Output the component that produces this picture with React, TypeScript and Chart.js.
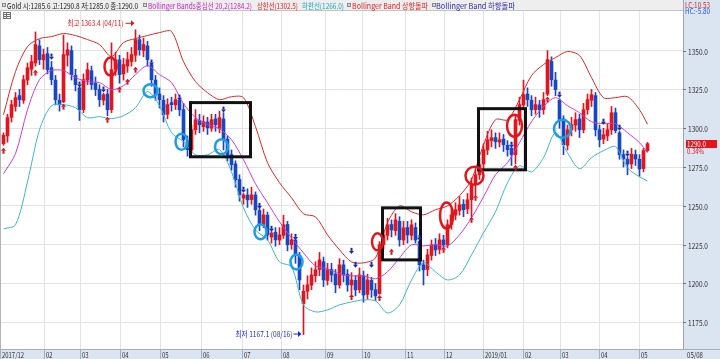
import React, { useEffect, useRef } from "react";
import { Chart, registerables } from "chart.js";

Chart.register(...registerables);

// ---------------- data ----------------
// candles: [open, high, low, close] (one bar per ~2 trading days, 2017/12 .. 2019/05/08)
const candles: number[][] = [
  [1290, 1297, 1289, 1295.5], [1295, 1309, 1291, 1306.8], [1307, 1318, 1304, 1315.2], [1314, 1323, 1311, 1319.7],
  [1321, 1325, 1314, 1318.4], [1318, 1334, 1316, 1331.3], [1331, 1342, 1328, 1339.0], [1338, 1347, 1334, 1342.9],
  [1342, 1362, 1340, 1353.9], [1353, 1357, 1341, 1344.2], [1344, 1351, 1338, 1347.4], [1348, 1352, 1335, 1337.7],
  [1339, 1343, 1328, 1331.3], [1331, 1334, 1315, 1318.4], [1318, 1322, 1311, 1315.2], [1317, 1360, 1316.5, 1347.4],
  [1347, 1355, 1340, 1350.6], [1350, 1353, 1331, 1334.5], [1334, 1338, 1324, 1328.1], [1326, 1326.5, 1305, 1311.9],
  [1312, 1335, 1310, 1331.3], [1331, 1342, 1328, 1337.7], [1337, 1340, 1325, 1328.1], [1329, 1333, 1321, 1324.9],
  [1325, 1328, 1314, 1318.4], [1318, 1322.5, 1315, 1321.6], [1322, 1325, 1308, 1311.9], [1312, 1355, 1310, 1337.7],
  [1338, 1349, 1334, 1344.2], [1344, 1347, 1329, 1334.5], [1335, 1345, 1331, 1341.0], [1340, 1349, 1336, 1344.2],
  [1343, 1352, 1340, 1347.4], [1347, 1363.4, 1343, 1357.1], [1357, 1360, 1347, 1350.6], [1350, 1358, 1346, 1353.9],
  [1353, 1356, 1340, 1344.2], [1341, 1341, 1327, 1331.3], [1331, 1334, 1318, 1321.6], [1322, 1326, 1313, 1318.4],
  [1318, 1321, 1304, 1308.7], [1309, 1319, 1306, 1315.2], [1316.5, 1320, 1311, 1315.2], [1315, 1322, 1312, 1318.4],
  [1318, 1318.5, 1308, 1311.9], [1312, 1316, 1288, 1292.6], [1292, 1295, 1282, 1286.2], [1286, 1302, 1284, 1299.0],
  [1299, 1312, 1296, 1305.5], [1305, 1309, 1297, 1302.3], [1301, 1308, 1298, 1304.2], [1304, 1307, 1296, 1300.3],
  [1300, 1309, 1298, 1305.5], [1306, 1309, 1298, 1302.3], [1300, 1311, 1297, 1306.8], [1306, 1310, 1286, 1292.6],
  [1293, 1295, 1279, 1282.9], [1283, 1286, 1273, 1276.5], [1277, 1279, 1262, 1266.8], [1267, 1270, 1253, 1257.1],
  [1255, 1258, 1251, 1257.0], [1257, 1261, 1249, 1253.9], [1254, 1262, 1251, 1257.1], [1257, 1259, 1244, 1247.5],
  [1247, 1249, 1234, 1237.8], [1238, 1248, 1236, 1244.2], [1244, 1246, 1228, 1231.3], [1230, 1233.5, 1226, 1232.5],
  [1233, 1236, 1224, 1228.1], [1228, 1236, 1225, 1231.3], [1231, 1244, 1229, 1237.8], [1238, 1240, 1221, 1224.9],
  [1225, 1232, 1222, 1228.1], [1228, 1229, 1213, 1218.4], [1218, 1220, 1196, 1202.3], [1187, 1199, 1167.1, 1195.0],
  [1195, 1205, 1190, 1199.1], [1199, 1210, 1196, 1205.5], [1205, 1214, 1201, 1208.8], [1209, 1220, 1205, 1215.2],
  [1214, 1217, 1198, 1202.3], [1202, 1213, 1199, 1208.8], [1209, 1213, 1201, 1205.5], [1206, 1209, 1194, 1199.1],
  [1199, 1216, 1197, 1212.0], [1212, 1215, 1201, 1205.5], [1206, 1209, 1195, 1199.1], [1199, 1207, 1193, 1202.3],
  [1202, 1205, 1192, 1195.9], [1196, 1210, 1194, 1205.5], [1205, 1208, 1188, 1192.6], [1193, 1206, 1190, 1202.3],
  [1202, 1204, 1191, 1195.9], [1196, 1200, 1189, 1192.0], [1193.5, 1227, 1193, 1224.9], [1225, 1235, 1222, 1231.3],
  [1231, 1242, 1228, 1237.8], [1238, 1241, 1230, 1234.5], [1234, 1245, 1231, 1241.0], [1240, 1243, 1224, 1228.1],
  [1228, 1240, 1225, 1235.8], [1236, 1240, 1226, 1231.3], [1231, 1241, 1228, 1237.8], [1236, 1239, 1226, 1228.0],
  [1227, 1227.5, 1208, 1212.0], [1212, 1215, 1199, 1208.8], [1209, 1222, 1205, 1218.4], [1218, 1228, 1215, 1224.9],
  [1225, 1229, 1218, 1221.6], [1222, 1232, 1219, 1228.1], [1228, 1231, 1223, 1224.9], [1225, 1241, 1223, 1237.8],
  [1238, 1248, 1235, 1244.2], [1244, 1252, 1241, 1247.5], [1247, 1256, 1244, 1250.7], [1251, 1254, 1243, 1247.5],
  [1248, 1258, 1245, 1253.9], [1254, 1268, 1243, 1263.6], [1264, 1274, 1257, 1270.0], [1270, 1281, 1267, 1276.5],
  [1277, 1290, 1274, 1286.2], [1286, 1298, 1283, 1292.6], [1292, 1299, 1288, 1293.9], [1294, 1297, 1287, 1291.3],
  [1291, 1297, 1288, 1292.6], [1293, 1296, 1285, 1289.4], [1289, 1292, 1282, 1286.2], [1287, 1288, 1276, 1282.9],
  [1283, 1308, 1277, 1305.5], [1305, 1320, 1302, 1315.2], [1315, 1331, 1312, 1321.6], [1322, 1326, 1314, 1318.4],
  [1318, 1321, 1308, 1311.9], [1312, 1320, 1309, 1315.2], [1315, 1318, 1307, 1311.9], [1312, 1323, 1309, 1318.4],
  [1322, 1350, 1321, 1344.2], [1343, 1346, 1327, 1331.3], [1331, 1336, 1321, 1324.9], [1318, 1319, 1300, 1305.5],
  [1306, 1308, 1283, 1289.4], [1289, 1302, 1286, 1299.0], [1299, 1307, 1295, 1302.3], [1302, 1310, 1298, 1305.5],
  [1306, 1309, 1294, 1299.0], [1299, 1316, 1297, 1311.9], [1312, 1322, 1309, 1318.4], [1318, 1325, 1314, 1321.6],
  [1321, 1323, 1295, 1299.0], [1299, 1302, 1288, 1292.6], [1293, 1300, 1290, 1295.8], [1295, 1303, 1292, 1299.0],
  [1299, 1314, 1296, 1310.0], [1310, 1313, 1297, 1298.5], [1297, 1298, 1280, 1283.0], [1283, 1286, 1275, 1280.2],
  [1280, 1281.5, 1270, 1276.9], [1277, 1287, 1274, 1283.3], [1283, 1286, 1276, 1280.2], [1280, 1283, 1269, 1273.7],
  [1274, 1287, 1272, 1285.6], [1285.6, 1290.8, 1285.0, 1290.0],
];

// Bollinger band samples (candle index -> value)
const bandIndex = [0, 3, 6, 9, 12, 15, 18, 21, 24, 27, 30, 33, 36, 39, 42, 45, 48, 51, 54, 57, 60, 63, 66, 69, 72, 75, 78, 81,
  84, 87, 90, 93, 96, 99, 102, 105, 108, 111, 114, 117, 120, 123, 126, 129, 132, 135, 138, 141, 144, 147, 150, 153, 156, 159, 161];
const upperBand = [1308.7, 1336.5, 1352.6, 1357.7, 1359.0, 1361.0, 1359.7, 1357.1, 1353.9, 1346.1, 1355.2, 1357.7, 1359.7, 1361.6,
  1362.3, 1342.9, 1330.0, 1322.9, 1318.4, 1320.3, 1319.7, 1301.0, 1277.8, 1264.9, 1255.2, 1244.9, 1242.9, 1231.3, 1221.7, 1213.9,
  1213.3, 1216.5, 1239.1, 1250.0, 1246.2, 1244.2, 1247.5, 1250.0, 1256.5, 1266.8, 1289.4, 1305.5, 1305.5, 1318.4, 1333.9, 1341.0,
  1345.5, 1349.4, 1346.8, 1332.6, 1319.7, 1319.7, 1320.3, 1311.9, 1302.5];
const middleBand = [1270.7, 1283.6, 1311.9, 1331.3, 1337.1, 1337.1, 1332.6, 1330.0, 1329.4, 1324.9, 1327.4, 1334.5, 1340.3, 1334.5,
  1329.4, 1315.8, 1306.8, 1302.3, 1299.7, 1292.6, 1279.7, 1264.2, 1252.0, 1239.7, 1229.4, 1219.7, 1211.3, 1209.4, 1206.2, 1204.9,
  1204.9, 1203.0, 1207.5, 1216.5, 1224.9, 1224.2, 1224.9, 1224.2, 1231.3, 1242.3, 1255.8, 1270.0, 1277.8, 1290.7, 1304.2, 1313.9,
  1319.7, 1314.5, 1310.0, 1304.2, 1302.9, 1302.9, 1297.1, 1290.7, 1284.2];
const lowerBand = [1235.2, 1237.8, 1265.5, 1299.0, 1314.5, 1315.2, 1313.2, 1306.8, 1307.4, 1306.2, 1308.1, 1313.2, 1323.6, 1314.5,
  1297.1, 1291.3, 1282.9, 1282.9, 1286.2, 1271.9, 1248.7, 1234.5, 1228.1, 1213.9, 1210.7, 1186.2, 1181.7, 1183.0, 1186.2, 1188.1,
  1189.4, 1188.8, 1181.0, 1186.2, 1202.3, 1213.3, 1207.5, 1202.3, 1205.5, 1218.4, 1232.6, 1246.2, 1264.9, 1275.8, 1271.9, 1281.0,
  1297.1, 1284.2, 1273.9, 1281.0, 1285.5, 1288.1, 1274.5, 1268.7, 1266.0];

// month boundaries on the candle-index axis and their labels
const monthStarts = [-0.875, 10.125, 19.125, 29.125, 39.125, 49.375, 59.625, 69.375, 80.375, 89.625, 100.375, 110.125,
  119.875, 129.875, 139.125, 148.875, 158.875];
const monthLabels = ["2017/12", "02", "03", "04", "05", "06", "07", "08", "09", "10", "11", "12", "2019/01", "02", "03", "04", "05"];
const lastDateLabel = "05/08";
const yTicks = [1175, 1200, 1225, 1250, 1275, 1300, 1325, 1350];

// signals [candle index, price]
const upSignals = [[0, 1285.5], [8, 1335.8], [15, 1313.9], [26, 1305.5], [29, 1324.9], [31, 1330.0], [33, 1337.7], [87, 1191.3],
  [94, 1190.7], [97, 1220.4], [110, 1221.7], [117, 1241.0], [118, 1255.2], [128, 1274.5], [136, 1318.5]];
const downSignals = [[12, 1346.1], [19, 1328.1], [25, 1324.9], [37, 1342.3], [44, 1319.7], [55, 1312.0], [60, 1260.4], [64, 1250.0],
  [67, 1235.2], [73, 1230.0], [87, 1221.0], [88, 1212.0], [92, 1212.0], [104, 1229.4], [127, 1289.4], [139, 1321.6], [150, 1304.2],
  [154, 1300.3], [156, 1283.6]];
// highlighted spots [candle index, price]
const redCircles = [[26.75, 1339.7], [93.5, 1226.8], [110.75, 1243.8], [117.75, 1269.4], [127.75, 1301.6]];
const blueCircles = [[36.75, 1324.2], [44.5, 1291.3], [54.5, 1288.1], [64.25, 1233.3], [73.25, 1213.9], [139.75, 1299.7]];
// boxes [from index, to index, top price, bottom price]
const boxes = [[46.75, 61.75, 1316.5, 1281.6], [94.75, 104.25, 1248.7, 1215.2], [118.75, 130.5, 1312.6, 1273.2]];
const highMark = { index: 33, value: 1363.4, date: "04/11" };
const lowMark = { index: 75, value: 1167.1, date: "08/16" };
const lcText = "LC:10.53";
const hcText = "HC:-5.80";

// ---------------- styles ----------------
const RED = "#e3141c";
const BLUE = "#1647c4";
const GRID = "#e3e3e3";
const PANEL = "#dbe5f1";
const FONT = '8px "Noto Sans CJK KR", "Noto Sans", sans-serif';
const RED_RADII = [[6, 9], [5.5, 8.5], [6.5, 13], [9, 9], [7.5, 11]];
const BLUE_RADII = [[7, 6.5], [6, 8], [6.5, 7.5], [6, 7.5], [6, 7.5], [8.5, 9]];

function fitText(ctx: any, s: string, x: number, y: number, w: number, color: string) {
  ctx.save();
  ctx.font = FONT;
  ctx.fillStyle = color;
  ctx.textBaseline = "middle";
  ctx.textAlign = "left";
  const m = ctx.measureText(s).width || 1;
  ctx.translate(x, y);
  ctx.scale(w / m, 1);
  ctx.fillText(s, 0, 0);
  ctx.restore();
}
function scaledText(ctx: any, s: string, x: number, y: number, color: string, sx: number) {
  ctx.save();
  ctx.font = FONT;
  ctx.fillStyle = color;
  ctx.textBaseline = "middle";
  ctx.textAlign = "left";
  ctx.translate(x, y);
  ctx.scale(sx, 1);
  ctx.fillText(s, 0, 0);
  ctx.restore();
}
function arrowGlyph(ctx: any, cx: number, cy: number, dir: number, color: string) {
  ctx.fillStyle = color;
  ctx.beginPath();
  ctx.moveTo(cx - 2.5, cy);
  ctx.lineTo(cx + 2.5, cy);
  ctx.lineTo(cx, cy - 3 * dir);
  ctx.closePath();
  ctx.fill();
  ctx.fillRect(cx - 1, dir > 0 ? cy : cy - 3, 2, 3);
}
function pointerArrow(ctx: any, x1: number, x2: number, y: number, color: string) {
  ctx.strokeStyle = color;
  ctx.fillStyle = color;
  ctx.lineWidth = 1;
  ctx.beginPath();
  ctx.moveTo(x1, y + 0.5);
  ctx.lineTo(x2 - 2, y + 0.5);
  ctx.stroke();
  ctx.beginPath();
  ctx.moveTo(x2, y + 0.5);
  ctx.lineTo(x2 - 3.5, y - 2.5);
  ctx.lineTo(x2 - 3.5, y + 3.5);
  ctx.closePath();
  ctx.fill();
}

const fmt = (v: number) => v.toFixed(1);

const overlayPlugin = {
  id: "overlay",
  afterDatasetsDraw(chart: any) {
    const { ctx, chartArea: a } = chart;
    const xs = chart.scales.x;
    const ys = chart.scales.y;
    const px = (i: number) => xs.getPixelForValue(i);
    const py = (v: number) => ys.getPixelForValue(v);
    ctx.save();
    ctx.beginPath();
    ctx.rect(a.left, a.top, a.right - a.left, a.bottom - a.top);
    ctx.clip();
    // boxes
    ctx.strokeStyle = "#111111";
    ctx.lineWidth = 3;
    boxes.forEach((b) => {
      ctx.strokeRect(px(b[0]), py(b[2]), px(b[1]) - px(b[0]), py(b[3]) - py(b[2]));
    });
    // circles
    ctx.lineWidth = 2.5;
    redCircles.forEach((c, k) => {
      ctx.strokeStyle = "#e0161a";
      ctx.beginPath();
      ctx.ellipse(px(c[0]), py(c[1]), RED_RADII[k][0], RED_RADII[k][1], 0, 0, Math.PI * 2);
      ctx.stroke();
    });
    blueCircles.forEach((c, k) => {
      ctx.strokeStyle = "#1b9ee2";
      ctx.beginPath();
      ctx.ellipse(px(c[0]), py(c[1]), BLUE_RADII[k][0], BLUE_RADII[k][1], 0, 0, Math.PI * 2);
      ctx.stroke();
    });
    // signals
    upSignals.forEach((s) => arrowGlyph(ctx, px(s[0]), py(s[1]), 1, "#d81018"));
    downSignals.forEach((s) => arrowGlyph(ctx, px(s[0]), py(s[1]), -1, "#1a2aa8"));
    // high / low labels
    const hx = px(highMark.index);
    const hy = py(highMark.value) - 7;
    fitText(ctx, `최고 ${fmt(highMark.value)} (${highMark.date})`, hx - 68, hy, 56, "#e0161a");
    pointerArrow(ctx, hx - 10, hx - 1, hy, "#e0161a");
    const lx = px(lowMark.index);
    const ly = py(lowMark.value) - 1;
    fitText(ctx, `최저 ${fmt(lowMark.value)} (${lowMark.date})`, lx - 68, ly, 57, "#1a2ad0");
    pointerArrow(ctx, lx - 10, lx - 2, ly, "#1a2ad0");
    ctx.restore();
  },
  afterDraw(chart: any) {
    const { ctx, chartArea: a, width, height } = chart;
    const xs = chart.scales.x;
    const ys = chart.scales.y;
    ctx.save();
    // legend bar
    ctx.fillStyle = "#eeeeee";
    ctx.fillRect(0, 0, a.right, a.top - 1);
    ctx.fillStyle = "#c4c4c4";
    ctx.fillRect(0, a.top - 1, a.right, 1);
    const last = candles[candles.length - 1];
    const n = upperBand.length - 1;
    const items = [
      { sq: 2, x: 7, w: 131, color: "#1a1a1a", text: `Gold 시:${fmt(last[0])} 고:${fmt(last[1])} 저:${fmt(last[2])} 종:${fmt(last[3])}` },
      { sq: 143, x: 148, w: 104, color: "#c81ec8", text: `Bollinger Bands중심선 20,2(${fmt(middleBand[n])})` },
      { sq: -1, x: 257, w: 41, color: "#e01e1e", text: `상한선(${fmt(upperBand[n])})` },
      { sq: -1, x: 302, w: 42, color: "#19a6bf", text: `하한선(${fmt(lowerBand[n])})` },
      { sq: 347, x: 352, w: 76, color: "#e01e1e", text: "Bollinger Band 상향돌파" },
      { sq: 432, x: 436, w: 79, color: "#2a2aa8", text: "Bollinger Band 하향돌파" },
    ];
    items.forEach((it) => {
      if (it.sq >= 0) {
        ctx.fillStyle = "#d6d6d6";
        ctx.fillRect(it.sq, 3, 4, 4);
        ctx.strokeStyle = "#8a8a8a";
        ctx.lineWidth = 1;
        ctx.strokeRect(it.sq + 0.5, 3.5, 3, 3);
      }
      fitText(ctx, it.text, it.x, 5.5, it.w, it.color);
    });
    // small table icon
    ctx.fillStyle = "#f6f6f6";
    ctx.fillRect(3, 12, 8, 7);
    ctx.strokeStyle = "#707070";
    ctx.lineWidth = 1;
    ctx.strokeRect(3.5, 12.5, 7, 6);
    ctx.beginPath();
    ctx.moveTo(3.5, 14.5); ctx.lineTo(10.5, 14.5);
    ctx.moveTo(3.5, 16.5); ctx.lineTo(10.5, 16.5);
    ctx.moveTo(6.5, 12.5); ctx.lineTo(6.5, 18.5);
    ctx.stroke();
    // left border
    ctx.fillStyle = "#b4b4b4";
    ctx.fillRect(0, a.top, 1, a.bottom - a.top);
    // right panel
    ctx.fillStyle = PANEL;
    ctx.fillRect(a.right, 0, width - a.right, height);
    ctx.fillStyle = "#9aa6b6";
    ctx.fillRect(a.right, 0, 1, height);
    // bottom band
    ctx.fillStyle = PANEL;
    ctx.fillRect(0, a.bottom, width, height - a.bottom);
    ctx.fillStyle = "#a3afbf";
    ctx.fillRect(0, a.bottom, width, 1);
    // y labels
    yTicks.forEach((v) => {
      const y = Math.round(ys.getPixelForValue(v));
      ctx.fillStyle = "#707070";
      ctx.fillRect(a.right, y, 3, 1);
      fitText(ctx, fmt(v), a.right + 5, y + 0.5, 20, "#333333");
    });
    fitText(ctx, lcText, a.right + 2, 4.5, 25, "#e01e1e");
    fitText(ctx, hcText, a.right + 2, 10.5, 25, "#1a5ad0");
    // last price box
    const prev = candles[candles.length - 2][3];
    const pct = ((last[3] - prev) / prev) * 100;
    const lyp = Math.round(ys.getPixelForValue(last[3]));
    ctx.fillStyle = last[3] >= prev ? "#e3141c" : BLUE;
    ctx.fillRect(a.right + 3, lyp - 4, 31, 8);
    fitText(ctx, fmt(last[3]), a.right + 4, lyp, 19, "#ffffff");
    fitText(ctx, `${pct.toFixed(2)}%`, a.right + 4, lyp + 7, 17, "#e3141c");
    // x labels
    monthStarts.forEach((m, k) => {
      const x = Math.round(xs.getPixelForValue(m));
      ctx.fillStyle = "#a3afbf";
      ctx.fillRect(x, a.bottom, 1, height - a.bottom);
      scaledText(ctx, monthLabels[k], x + 2, a.bottom + 5.5, "#333333", 0.74);
    });
    fitText(ctx, lastDateLabel, a.right + 4, a.bottom + 5.5, 16, "#333333");
    ctx.restore();
  },
};

export default function App() {
  const ref = useRef<HTMLCanvasElement | null>(null);
  useEffect(() => {
    const colors = candles.map((c) => (c[3] >= c[0] ? RED : BLUE));
    const wicks = candles.map((c, i) => ({ x: i, y: [c[2], c[1]] }));
    const bodies = candles.map((c, i) => ({ x: i, y: [c[0], c[3]] }));
    const band = (arr: number[]) => bandIndex.map((x, k) => ({ x, y: arr[k] }));
    const chart = new Chart(ref.current as HTMLCanvasElement, {
      type: "bar",
      data: {
        datasets: [
          { type: "line", data: band(upperBand), borderColor: "#d42a2a", borderWidth: 1, pointRadius: 0, tension: 0.3, order: 0 } as any,
          { type: "line", data: band(middleBand), borderColor: "#c83cd8", borderWidth: 1, pointRadius: 0, tension: 0.3, order: 0 } as any,
          { type: "line", data: band(lowerBand), borderColor: "#3cb6c6", borderWidth: 1, pointRadius: 0, tension: 0.3, order: 0 } as any,
          { type: "bar", data: wicks, backgroundColor: colors, barThickness: 1, grouped: false, order: 2 } as any,
          { type: "bar", data: bodies, backgroundColor: colors, barThickness: 3, grouped: false, order: 1 } as any,
        ],
      },
      options: {
        animation: false,
        responsive: false,
        devicePixelRatio: 1,
        layout: { padding: { left: 0, top: 11, right: 37, bottom: 10 } },
        plugins: { legend: { display: false }, tooltip: { enabled: false } },
        scales: {
          x: {
            type: "linear",
            min: -0.875,
            max: 169.875,
            offset: false,
            grid: { color: GRID, drawTicks: false, offset: false },
            border: { display: false },
            ticks: { display: false },
            afterBuildTicks: (s: any) => {
              s.ticks = monthStarts.map((v) => ({ value: v }));
            },
          },
          y: {
            type: "linear",
            position: "right",
            min: 1157.8,
            max: 1375.5,
            grid: { color: GRID, drawTicks: false },
            border: { display: false },
            ticks: { display: false },
            afterBuildTicks: (s: any) => {
              s.ticks = yTicks.map((v) => ({ value: v }));
            },
          },
        },
      } as any,
      plugins: [overlayPlugin],
    });
    return () => chart.destroy();
  }, []);
  return (
    <div style={{ position: "absolute", left: 0, top: 0, width: 720, height: 359, background: "#ffffff" }}>
      <canvas ref={ref} width={720} height={359} style={{ display: "block", width: 720, height: 359 }} />
    </div>
  );
}
